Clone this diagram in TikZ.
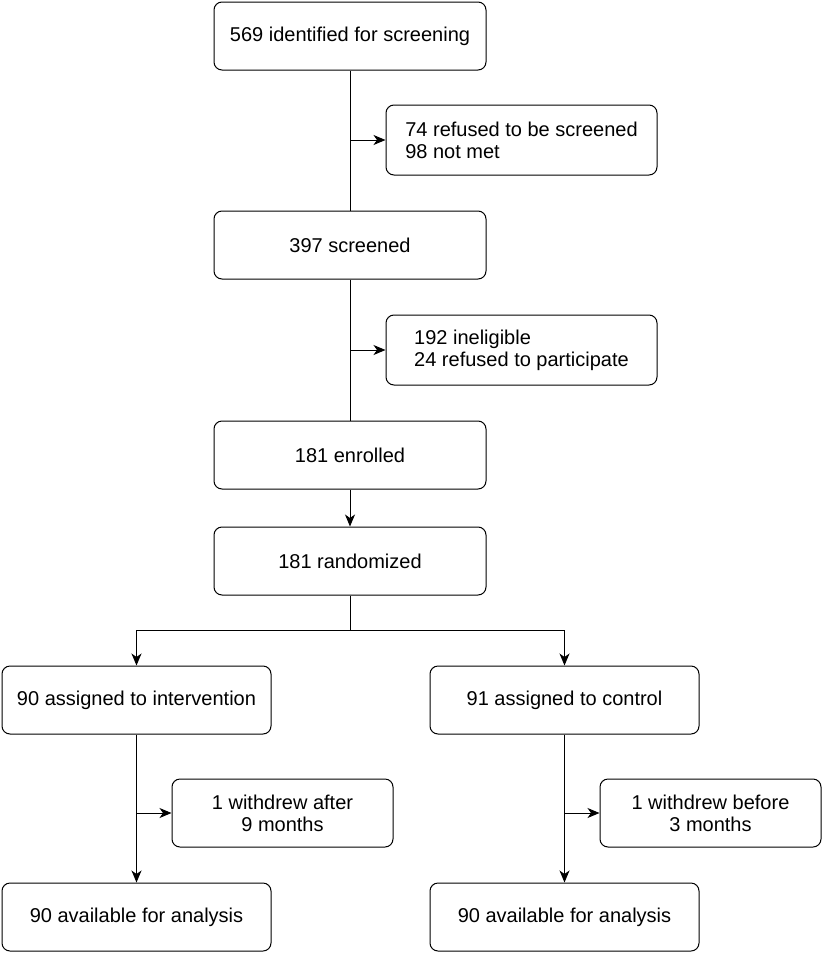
\documentclass[tikz,border=0pt]{standalone}
\usepackage{fontspec}
\setmainfont{Liberation Sans}
\usetikzlibrary{arrows.meta,calc}

\tikzset{
  box/.style={rectangle, draw, rounded corners=8pt, minimum width=272pt, minimum height=68pt, inner sep=4pt},
  sidebox/.style={box, minimum width=271pt, minimum height=70pt, align=left},
  armbox/.style={box, minimum width=269pt},
  wdbox/.style={box, minimum width=221pt, align=center},
  >={Stealth[length=12pt, width=10pt, inset=3.5pt]}
}

\begin{document}
\begin{tikzpicture}[x=1pt, y=-1pt, line width=1pt, font=\fontsize{20}{22}\selectfont]
		\useasboundingbox (0,0) rectangle (822,953);
		\path (350,36) node[box] (ident) {569 identified for screening}
  		(521.5,140) node[sidebox] (refused) {74 refused to be screened\\98 not met}
  		(350,245) node[box] (screened) {397 screened}
  		(521.5,350) node[sidebox] (inelig) {192 ineligible\\24 refused to participate}
  		(350,455) node[box] (enrolled) {181 enrolled}
  		(350,561) node[box] (random) {181 randomized}
  		(136.5,700) node[armbox] (interv) {90 assigned to intervention}
  		(564.5,700) node[armbox] (control) {91 assigned to control}
  		(282.5,813) node[wdbox] (wdafter) {1 withdrew after\\9 months}
  		(710.5,813) node[wdbox] (wdbefore) {1 withdrew before\\3 months}
  		(136.5,917) node[armbox] (availint) {90 available for analysis}
  		(564.5,917) node[armbox] (availctl) {90 available for analysis};
		\coordinate (split) at (350,630);

		\draw (ident) -- (screened);
		\draw[->] (ident.south |- refused) -- (refused.west);
		\draw (screened) -- (enrolled);
		\draw[->] (screened.south |- inelig) -- (inelig.west);
		\draw[->] (enrolled) -- (random);
		\draw (random) -- (split);
		\draw[->] (split) -| (interv);
		\draw[->] (split) -| (control);
		\draw[->] (interv) -- (availint);
		\draw[->] (interv.south |- wdafter) -- (wdafter.west);
		\draw[->] (control) -- (availctl);
		\draw[->] (control.south |- wdbefore) -- (wdbefore.west);
	\end{tikzpicture}
\end{document}
